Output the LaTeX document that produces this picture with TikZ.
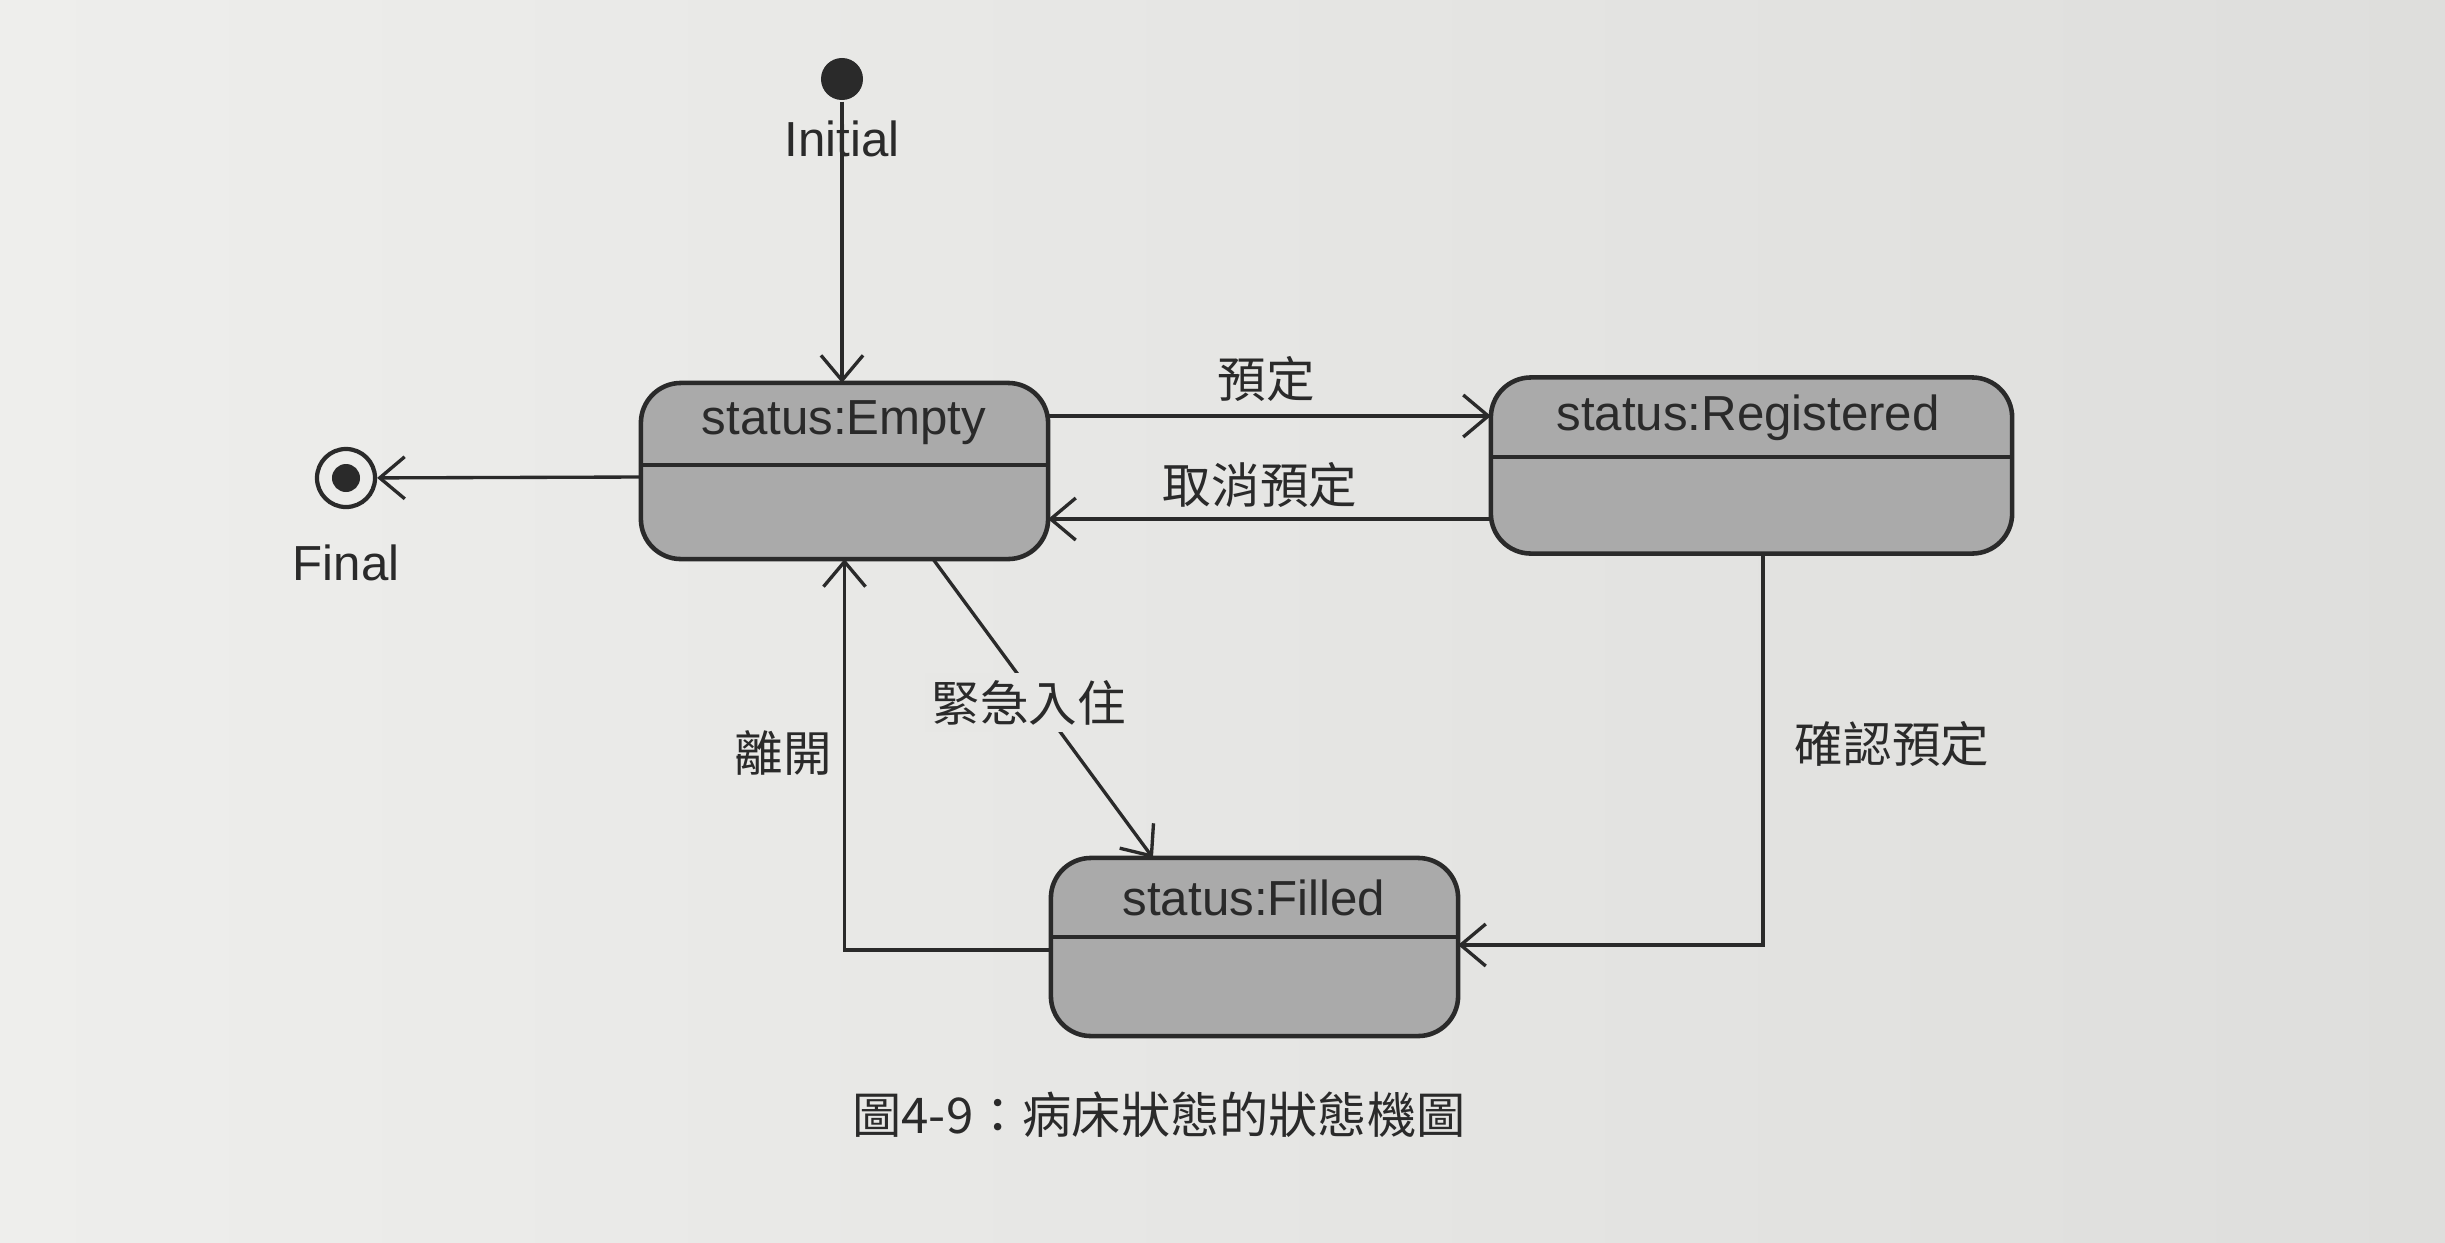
\documentclass[tikz,border=0pt]{standalone}
\usepackage{fontspec}
\setmainfont{Liberation Sans}
\newfontfamily\cjk{Noto Sans CJK TC}
\usetikzlibrary{arrows.meta}
\definecolor{paper}{RGB}{231,231,229}
\definecolor{paperl}{RGB}{238,238,236}
\definecolor{paperr}{RGB}{222,222,220}
\definecolor{stategray}{RGB}{170,170,170}
\definecolor{ink}{RGB}{42,42,42}

\begin{document}
\begin{tikzpicture}[x=0.01cm, y=-0.01cm, ink, line width=0.95pt,
	font=\fontsize{14}{16}\selectfont,
	state/.style={draw, line width=1.3pt, fill=stategray, rounded corners=0.4cm,
		inner sep=0pt, outer sep=0pt, minimum height=1.76cm},
	trans/.style={-{Straight Barb[length=2.5mm,width=4.2mm]}},
	zh/.style={font=\cjk\fontsize{13.8}{16}\selectfont}]
	\shade[left color=paperl, right color=paperr] (0,0) rectangle (2445,1242);
	% states
	\node[state, minimum width=4.07cm] (empty) at (844.5,471) {};
	\node[state, minimum width=5.21cm] (reg) at (1751.5,465.5) {};
	\node[state, minimum width=4.07cm, minimum height=1.78cm] (filled) at (1254.5,947) {};
	\foreach \s/\d in {empty/0.06,reg/0.085,filled/0.1}
		\draw[line width=1.3pt] ([yshift=\d cm]\s.west) -- ([yshift=\d cm]\s.east);
	\node (emptyname) at (844,423) {status:Empty};
	\node (regname) at (1748,418) {status:Registered};
	\node (filledname) at (1254,898) {status:Filled};
	% initial and final
	\node[circle, fill=ink, minimum size=0.42cm, inner sep=0pt] (init) at (842,79) {};
	\node (initlbl) at (842,139) {Initial};
	\draw[trans] (init) -- (init |- empty.north);
	\node[circle, draw, line width=1.2pt, minimum size=0.58cm, inner sep=0pt] (final) at (346,478) {};
	\node[circle, fill=ink, minimum size=0.28cm, inner sep=0pt] (finaldot) at (final) {};
	\node (finallbl) at (346,563) {Final};
	\draw[trans] ([yshift=-0.06cm]empty.west) -- (final);
	% transitions
	\coordinate (bookA) at ([yshift=0.55cm]empty.east);
	\coordinate (cancelA) at ([yshift=-0.535cm]reg.west);
	\draw[trans] (bookA) -- (bookA -| reg.west);
	\draw[trans] (cancelA) -- (cancelA -| empty.east);
	\node[zh] (booklbl) at (1266,379) {預定};
	\node[zh] (cancellbl) at (1260,485) {取消預定};
	\draw[trans] ([xshift=0.885cm]empty.south) -- ([xshift=-1.015cm]filled.north)
		node[zh, pos=0.48, xshift=-0.1cm, fill=paper, inner sep=2pt] (urgentlbl) {緊急入住};
	\draw[trans] ([yshift=-0.03cm]filled.west) -| (empty.south);
	\node[zh] (leavelbl) at (783,753) {離開};
	\draw[trans] ([xshift=0.115cm]reg.south) |- ([yshift=0.02cm]filled.east);
	\node[zh] (confirmlbl) at (1892,744) {確認預定};
	\node[font=\cjk\fontsize{14}{17}\selectfont] (caption) at (1159,1115) {圖4-9：病床狀態的狀態機圖};
\end{tikzpicture}
\end{document}
